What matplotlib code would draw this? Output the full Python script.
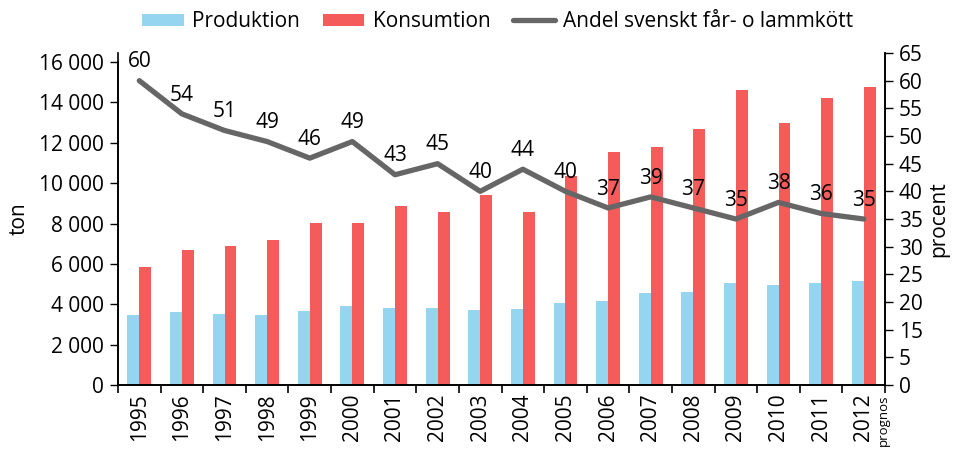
import numpy as np
import matplotlib
matplotlib.use("Agg")
import matplotlib.pyplot as plt
from matplotlib.ticker import FuncFormatter

plt.rcParams['font.family'] = ['Open Sans', 'DejaVu Sans']

years = ["1995", "1996", "1997", "1998", "1999", "2000", "2001", "2002", "2003",
         "2004", "2005", "2006", "2007", "2008", "2009", "2010", "2011", "2012"]
produktion = [3470, 3630, 3500, 3470, 3650, 3910, 3810, 3830, 3730,
              3780, 4050, 4180, 4570, 4610, 5040, 4970, 5040, 5170]
konsumtion = [5840, 6690, 6900, 7180, 8040, 8010, 8870, 8550, 9410,
              8570, 10350, 11530, 11800, 12680, 14610, 12990, 14230, 14770]
andel = [60, 54, 51, 49, 46, 49, 43, 45, 40, 44, 40, 37, 39, 37, 35, 38, 36, 35]

right_ticks = [5, 10, 15, 20, 25, 30, 35, 40, 45, 50, 55, 60, 65]
right_labels = ["0", "5", "15", "20", "25", "30", "35", "40", "45", "50", "55", "60", "65"]

blue = "#96D5EF"
red = "#F45C5C"
grey = "#666666"
fs = 15

fig = plt.figure(figsize=(9.57, 4.5), dpi=100)
ax = fig.add_axes([0.1233, 0.1444, 0.8015, 0.7378])
ax2 = ax.twinx()

x = np.arange(len(years))
w = 0.28
b1 = ax.bar(x - w / 2, produktion, w, color=blue, label="Produktion")
b2 = ax.bar(x + w / 2, konsumtion, w, color=red, label="Konsumtion")

ax.set_xlim(-0.5, len(years) - 0.5)
ax.set_ylim(0, 16446)
ax.set_yticks(np.arange(0, 16001, 2000))
ax.yaxis.set_major_formatter(FuncFormatter(lambda v, p: f"{int(v):,}".replace(",", " ")))
ax.spines['left'].set_bounds(0, 16000)
ax.spines['top'].set_visible(False)
ax.set_ylabel("ton", fontsize=fs, labelpad=7)

ax.set_xticks(x)
ax.set_xticklabels(years, rotation=90, fontsize=fs)
ax.tick_params(axis='x', which='major', length=0, pad=6)
ax.set_xticks(np.arange(-0.5, len(years)), minor=True)
ax.tick_params(axis='x', which='minor', length=6, width=1.2, direction='out')
ax.tick_params(axis='y', labelsize=fs, length=6, width=1, direction='out', pad=4)

for s in ['left', 'bottom', 'right']:
    ax.spines[s].set_linewidth(1.2)
    ax2.spines[s].set_linewidth(1.2)
ax2.spines['top'].set_visible(False)

line, = ax2.plot(x, andel, color=grey, lw=3.8, solid_capstyle='round',
                 label="Andel svenskt får- o lammkött")
for xi, v in zip(x, andel):
    ax2.annotate(str(v), (xi, v), xytext=(0, 6), textcoords='offset points',
                 ha='center', va='bottom', fontsize=fs)
ax2.set_ylim(5, 65)
ax2.set_yticks(right_ticks)
ax2.set_yticklabels(right_labels)
ax2.tick_params(axis='y', labelsize=fs, length=6, width=1, direction='out', pad=4)
ax2.set_ylabel("procent", fontsize=fs, labelpad=4)

ax.text(17.45, -0.03, "prognos", transform=ax.get_xaxis_transform(), rotation=90,
        fontsize=9.5, ha='center', va='top')

fig.legend(handles=[b1, b2, line], loc='center', bbox_to_anchor=(0.52, 0.952),
           ncol=3, frameon=False, fontsize=fs, handlelength=2.0, handleheight=0.5,
           columnspacing=1.1, handletextpad=0.4)

fig.savefig("out.png", dpi=100)
